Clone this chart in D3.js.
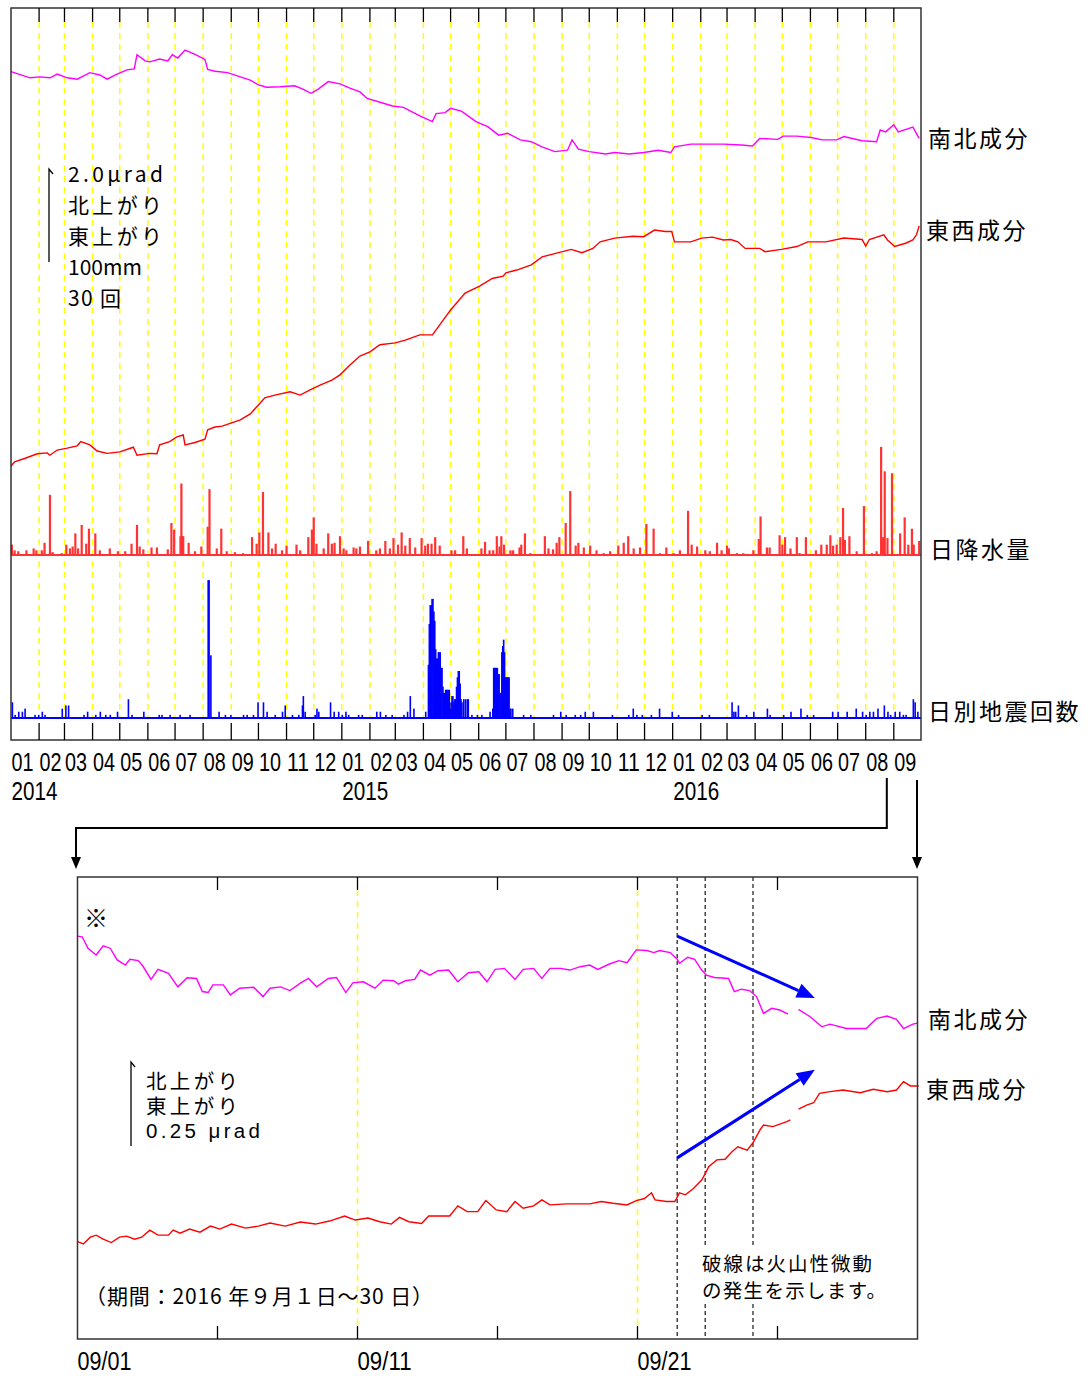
<!DOCTYPE html>
<html><head><meta charset="utf-8">
<script src="https://cdn.jsdelivr.net/npm/d3@7"></script>
<style>
body{margin:0;background:#fff}
svg{display:block}
text{font-family:"Noto Sans CJK JP","Noto Sans",sans-serif;fill:#000}
</style>
</head><body><svg id="c" width="1091" height="1376"></svg>
<script>
// ---------------- DATA ----------------
// top chart: day offsets from 2014-01-01
const monthLabels = ["01","02","03","04","05","06","07","08","09","10","11","12",
  "01","02","03","04","05","06","07","08","09","10","11","12",
  "01","02","03","04","05","06","07","08","09"];
const yearLabels = [["2014-01-01","2014"],["2015-01-01","2015"],["2016-01-01","2016"]];

// 南北成分 [day, µrad]
const nsTop = [[0,8.90],[21,8.77],[32,8.79],[43,8.77],[51,8.85],[62,8.77],[73,8.74],[87,8.88],[98,8.83],[106,8.74],
 [117,8.85],[128,8.94],[136,8.96],[139,9.26],[148,9.13],[153,9.11],[164,9.17],[173,9.13],[178,9.26],[184,9.19],
 [192,9.36],[203,9.27],[214,9.16],[217,8.95],[225,8.91],[239,8.88],[253,8.79],[264,8.72],[273,8.62],[282,8.57],
 [297,8.58],[313,8.60],[322,8.53],[331,8.44],[339,8.53],[350,8.69],[363,8.64],[374,8.55],[385,8.47],[393,8.33],
 [409,8.24],[421,8.17],[433,8.14],[451,7.96],[465,7.84],[469,8.01],[479,8.03],[485,8.12],[497,8.06],[513,7.84],
 [526,7.73],[538,7.55],[548,7.59],[562,7.45],[574,7.41],[586,7.30],[600,7.20],[614,7.23],[619,7.45],[626,7.25],
 [638,7.20],[656,7.15],[666,7.18],[682,7.15],[698,7.18],[714,7.23],[728,7.18],[732,7.30],[750,7.36],[766,7.36],
 [786,7.36],[806,7.34],[818,7.32],[826,7.48],[846,7.46],[852,7.53],[867,7.53],[883,7.50],[895,7.45],[911,7.45],
 [919,7.52],[939,7.43],[955,7.41],[959,7.66],[965,7.62],[974,7.77],[979,7.62],[995,7.72],[1002,7.48]];

// 東西成分 [day, µrad]
const ewTop = [[0,0.51],[4,0.60],[15,0.67],[29,0.77],[40,0.79],[43,0.74],[51,0.85],[62,0.89],[73,0.94],[77,1.03],
 [87,0.96],[95,0.83],[106,0.78],[120,0.81],[135,0.91],[139,0.74],[153,0.78],[161,0.77],[164,0.96],[175,1.03],
 [183,1.13],[190,1.17],[192,0.96],[203,1.01],[214,1.08],[217,1.28],[225,1.34],[233,1.36],[253,1.49],[264,1.62],
 [273,1.81],[280,1.96],[291,2.02],[308,2.09],[319,2.02],[330,2.13],[341,2.23],[354,2.34],[363,2.45],[374,2.66],
 [385,2.85],[396,2.94],[407,3.09],[424,3.13],[435,3.19],[451,3.30],[465,3.30],[477,3.62],[485,3.83],[501,4.19],
 [517,4.34],[531,4.50],[543,4.55],[546,4.62],[558,4.68],[574,4.79],[586,4.96],[602,5.04],[618,5.12],[630,5.05],
 [642,5.14],[650,5.28],[666,5.36],[686,5.40],[698,5.39],[710,5.53],[722,5.50],[729,5.50],[732,5.28],[750,5.28],
 [762,5.36],[774,5.38],[786,5.32],[794,5.33],[802,5.28],[810,5.14],[826,5.14],[832,5.07],[850,5.12],[867,5.18],
 [879,5.28],[899,5.28],[919,5.36],[939,5.33],[943,5.19],[947,5.33],[963,5.43],[967,5.32],[975,5.18],[987,5.25],
 [995,5.32],[999,5.43],[1002,5.62]];

// 日降水量 [day, mm]
const rainDaily = [[1,11],[4,5],[8,4],[17,5],[25,7],[28,5],[34,5],[37,13],[43,64],[46,3],[56,2],[61,11],[65,7],[68,9],
 [71,23],[74,7],[78,32],[83,12],[86,28],[93,23],[98,5],[109,7],[118,4],[126,4],[133,12],[139,32],[142,9],[146,6],
 [155,8],[161,8],[173,6],[177,34],[180,27],[187,20],[188,76],[189,20],[190,20],[196,13],[203,4],[210,9],[217,30],
 [219,70],[227,7],[232,28],[238,4],[247,3],[256,2],[266,19],[271,12],[274,24],[278,67],[284,24],[288,7],[292,12],
 [299,5],[304,10],[315,11],[319,5],[328,19],[332,27],[334,40],[337,12],[345,7],[350,23],[354,12],[357,13],[363,20],
 [367,7],[370,5],[378,8],[381,7],[385,9],[394,15],[403,5],[407,7],[413,15],[418,7],[422,18],[427,11],[431,24],
 [435,10],[440,18],[446,8],[453,18],[457,10],[460,12],[464,12],[468,19],[473,10],[486,5],[490,5],[499,20],[503,7],
 [519,7],[523,14],[528,5],[532,5],[536,20],[539,9],[541,20],[544,11],[551,5],[554,5],[561,8],[563,11],[567,23],
 [573,2],[589,20],[593,7],[598,6],[602,13],[605,19],[612,34],[617,68],[623,10],[626,13],[632,8],[639,10],[646,5],
 [654,2],[661,4],[670,10],[676,13],[681,20],[687,7],[694,8],[701,33],[709,28],[716,2],[723,8],[731,2],[738,5],
 [747,47],[751,11],[757,9],[766,5],[771,4],[779,13],[784,5],[790,10],[792,7],[801,2],[808,2],[819,5],[825,17],
 [827,41],[834,8],[837,8],[848,21],[851,11],[854,19],[860,7],[867,19],[870,2],[877,19],[888,5],[894,11],[900,11],
 [904,21],[907,10],[911,11],[915,19],[918,50],[920,16],[925,20],[933,4],[941,52],[950,2],[955,4],[960,115],
 [962,19],[964,89],[967,18],[972,87],[981,23],[986,40],[990,11],[994,28],[996,11],[1002,15]];

// 日別地震回数 [day, count]
const quakeDaily = [[1,5],[4,1],[8,2],[12,2],[15,3],[26,1],[30,1],[34,2],[37,1],[56,3],[60,4],[63,4],[80,1],[84,2],
 [93,1],[98,2],[104,1],[109,1],[117,2],[129,6],[133,1],[146,2],[163,1],[166,1],[175,1],[186,1],[197,1],[217,44],
 [218,44],[220,20],[229,2],[236,1],[242,1],[256,1],[260,1],[267,1],[272,5],[278,5],[282,2],[291,1],[299,2],[302,4],
 [310,1],[317,1],[321,4],[322,7],[324,2],[335,1],[337,3],[339,2],[352,5],[356,2],[361,2],[365,1],[369,2],[372,1],
 [383,1],[387,1],[403,2],[407,2],[413,1],[420,1],[433,1],[437,2],[440,7],[444,3],[457,2],[460,17],[461,30],[462,36],
 [463,36],[464,38],[465,38],[466,34],[467,31],[468,22],[469,19],[470,19],[471,21],[472,21],[473,21],[474,16],
 [475,16],[476,10],[477,8],[478,8],[479,9],[480,9],[481,9],[482,9],[483,9],[484,3],[485,5],[486,7],[487,7],[488,5],
 [489,6],[490,6],[491,10],[492,13],[493,15],[494,15],[495,11],[496,6],[497,5],[499,6],[501,6],[503,6],[504,6],
 [508,1],[514,1],[519,1],[528,2],[531,3],[532,16],[533,16],[534,16],[535,16],[536,16],[537,14],[538,14],[539,8],
 [540,8],[541,21],[542,23],[543,25],[544,21],[545,13],[546,13],[547,13],[548,13],[549,13],[550,3],[551,3],[553,3],
 [565,1],[573,1],[598,1],[606,2],[612,1],[622,1],[628,1],[633,2],[642,2],[663,1],[681,1],[686,3],[690,1],[696,1],
 [706,1],[715,3],[729,2],[736,1],[762,1],[770,1],[795,5],[797,2],[799,2],[802,4],[811,1],[819,2],[834,3],[837,1],
 [852,1],[860,2],[871,3],[878,1],[885,1],[906,2],[912,2],[922,2],[932,3],[939,2],[943,1],[947,2],[951,2],[956,3],
 [963,4],[967,2],[970,1],[975,2],[980,2],[984,1],[987,1],[995,6],[997,5],[1000,2]];

// bottom chart: hour offsets from 2016-09-01 00:00
const sepTickDays = [1,6,11,16,21,26];
const sepLabelDays = [1,11,21];
const sepYellowDays = [11,21];
const nsSep = [[0,1.083],[4,1.081],[9,1.047],[16,1.027],[22,1.054],[28,1.047],[34,1.012],[41,0.997],[45,1.014],
 [52,1.010],[56,0.994],[63,0.954],[69,0.984],[78,0.972],[86,0.932],[94,0.959],[102,0.957],[107,0.918],[112,0.915],
 [116,0.938],[125,0.938],[131,0.908],[139,0.928],[151,0.931],[159,0.903],[165,0.928],[174,0.932],[182,0.921],
 [191,0.943],[198,0.957],[205,0.932],[215,0.957],[222,0.960],[230,0.915],[236,0.944],[245,0.947],[255,0.928],
 [262,0.952],[271,0.950],[275,0.940],[281,0.950],[289,0.954],[294,0.982],[302,0.967],[309,0.980],[318,0.982],
 [326,0.947],[335,0.974],[344,0.977],[351,0.947],[358,0.984],[366,0.987],[375,0.954],[382,0.984],[391,0.987],
 [398,0.957],[405,0.987],[414,0.987],[422,0.982],[431,0.992],[439,0.997],[446,0.984],[456,1.000],[464,1.010],
 [471,1.004],[479,1.042],[488,1.040],[494,1.034],[499,1.040],[508,1.034],[514,1.014],[516,1.002],[523,1.020],
 [529,1.014],[535,0.982],[539,0.967],[546,0.960],[558,0.957],[563,0.918],[569,0.925],[576,0.921],[582,0.903],
 [588,0.853],[595,0.868],[602,0.863],[609,0.851],[613,null],[618,0.865],[628,0.843],[638,0.813],[645,0.821],
 [659,0.808],[676,0.808],[685,0.838],[694,0.845],[702,0.835],[708,0.808],[716,0.821],[720,0.824]];
const ewSep = [[0,0.174],[5,0.167],[11,0.187],[16,0.193],[22,0.181],[29,0.171],[36,0.187],[42,0.190],[49,0.181],
 [55,0.187],[62,0.208],[69,0.193],[78,0.193],[82,0.208],[88,0.199],[96,0.211],[105,0.202],[114,0.220],[122,0.211],
 [132,0.226],[144,0.214],[155,0.220],[165,0.229],[178,0.220],[191,0.232],[204,0.226],[216,0.235],[229,0.250],
 [238,0.238],[249,0.244],[259,0.233],[269,0.226],[276,0.246],[284,0.233],[295,0.228],[301,0.250],[319,0.250],
 [326,0.280],[334,0.263],[343,0.263],[350,0.296],[359,0.268],[368,0.263],[375,0.293],[382,0.273],[391,0.280],
 [398,0.298],[405,0.283],[419,0.286],[439,0.286],[449,0.293],[459,0.288],[471,0.283],[479,0.296],[486,0.302],
 [492,0.319],[495,0.298],[505,0.293],[512,0.293],[516,0.319],[521,0.313],[528,0.332],[535,0.357],[539,0.382],
 [541,0.397],[548,0.417],[555,0.419],[561,0.441],[566,0.456],[574,0.446],[579,0.468],[585,0.506],[588,0.521],
 [596,0.516],[608,0.531],[611,0.536],[614,null],[618,0.568],[625,0.580],[631,0.587],[636,0.615],[645,0.620],
 [656,0.625],[671,0.617],[682,0.627],[694,0.620],[702,0.625],[708,0.650],[714,0.637],[721,0.637]];
// 火山性微動 (hours from 09/01 00:00)
const tremorHours = [514, 538, 579];
// trend arrows [hour, µrad] -> [hour, µrad]
const trendArrows = [[[514,1.083],[632,0.899]],[[514,0.423],[632,0.685]]];

// ---------------- DRAW ----------------
const svg = d3.select("#c");
const t0 = new Date(2014,0,1), t1 = new Date(2016,9,1);
const dayDate = d => d3.timeDay.offset(t0, d);
const TL=11, TR=921, TT=8, TB=740;
const x = d3.scaleTime().domain([t0,t1]).range([TL,TR]);
const yTilt = d3.scaleLinear().domain([0,10]).range([490,20]);
const yRain = d3.scaleLinear().domain([0,100]).range([555,461]);
const yQuake = d3.scaleLinear().domain([0,30]).range([718,624]);
const months = d3.timeMonth.range(t0, t1);
const dayW = x(dayDate(1)) - x(dayDate(0));
const NARROW = "'Liberation Sans Narrow','Liberation Sans',sans-serif";
const TIGHT = "'Liberation Sans','Noto Sans CJK JP',sans-serif";

// yellow dashed month lines
svg.append("g").selectAll("line").data(months.slice(1)).join("line")
  .attr("x1",d=>x(d)).attr("x2",d=>x(d)).attr("y1",22).attr("y2",718)
  .attr("stroke","#ffff00").attr("stroke-width",1.5).attr("stroke-dasharray","6,5");

// rain baseline + bars
const rainC = "#ff3333";
svg.append("g").selectAll("rect").data(rainDaily).join("rect")
  .attr("x",d=>x(dayDate(d[0]))-1.1).attr("width",Math.max(2.2,dayW))
  .attr("y",d=>yRain(d[1])).attr("height",d=>yRain(0)-yRain(d[1]))
  .attr("fill",rainC);
svg.append("line").attr("x1",TL).attr("x2",TR).attr("y1",yRain(0)).attr("y2",yRain(0))
  .attr("stroke",rainC).attr("stroke-width",2);

// quake bars
const qC = "#0000ff";
svg.append("g").selectAll("rect").data(quakeDaily).join("rect")
  .attr("x",d=>x(dayDate(d[0]))-0.3).attr("width",Math.max(1.6,dayW+0.4))
  .attr("y",d=>yQuake(d[1])).attr("height",d=>yQuake(0)-yQuake(d[1]))
  .attr("fill",qC);
svg.append("line").attr("x1",TL).attr("x2",TR).attr("y1",yQuake(0)).attr("y2",yQuake(0))
  .attr("stroke",qC).attr("stroke-width",2);

// tilt lines
const lineTop = d3.line().x(d=>x(dayDate(d[0]))).y(d=>yTilt(d[1]));
svg.append("path").datum(nsTop).attr("d",lineTop).attr("fill","none").attr("stroke","#ff00ff").attr("stroke-width",1.4);
svg.append("path").datum(ewTop).attr("d",lineTop).attr("fill","none").attr("stroke","#ff0000").attr("stroke-width",1.4);

// frame + ticks
svg.append("rect").attr("x",TL).attr("y",TT).attr("width",TR-TL).attr("height",TB-TT)
  .attr("fill","none").attr("stroke","#333").attr("stroke-width",1.5);
const tg = svg.append("g").attr("stroke","#000").attr("stroke-width",1.3);
tg.selectAll("line.t").data(months.slice(1)).join("line").attr("class","t")
  .attr("x1",d=>x(d)).attr("x2",d=>x(d)).attr("y1",TT).attr("y2",22);
tg.selectAll("line.b").data(months.slice(1)).join("line").attr("class","b")
  .attr("x1",d=>x(d)).attr("x2",d=>x(d)).attr("y1",723).attr("y2",TB);

// month labels
const condensed = (sel, len) => sel.attr("textLength",len).attr("lengthAdjust","spacingAndGlyphs");
svg.append("g").selectAll("text").data(months).join("text")
  .attr("x",d=>x(d)+0.5).attr("y",771).attr("font-size",25).style("font-family",NARROW)
  .text((d,i)=>monthLabels[i]).call(condensed,22);
svg.append("g").selectAll("text").data(yearLabels).join("text")
  .attr("x",d=>x(new Date(d[0]+"T00:00"))+0.5).attr("y",800).attr("font-size",25).style("font-family",NARROW)
  .text(d=>d[1]).call(condensed,46);

// scale bar (top)
svg.append("path").attr("d","M49,262V169L53,174").attr("fill","none").attr("stroke","#000").attr("stroke-width",1.3);
const sTxt = [["2.0μrad",95],["北上がり",94],["東上がり",94],["100mm",0],["30 回",53]];
svg.append("g").selectAll("text").data(sTxt).join("text")
  .attr("x",68).attr("y",(d,i)=>182+i*31).attr("font-size",21)
  .attr("textLength",d=>d[1]||null).attr("lengthAdjust",d=>d[1]?"spacing":null).text(d=>d[0]);

// right labels
const rl = [["南北成分",928,147],["東西成分",926,239],["日降水量",930,558],["日別地震回数",928,720],
  ["南北成分",928,1028],["東西成分",926,1098]];
svg.append("g").selectAll("text").data(rl).join("text")
  .attr("x",d=>d[1]).attr("y",d=>d[2]).attr("font-size",23).attr("letter-spacing",2.5).text(d=>d[0]);

// connector arrows
const xConn = x(new Date(2016,8,1)) - 7;
svg.append("path").attr("d",`M${xConn},778V828H76V858`).attr("fill","none").attr("stroke","#000").attr("stroke-width",2);
svg.append("path").attr("d",`M${TR-4},780V858`).attr("fill","none").attr("stroke","#000").attr("stroke-width",2);
[[76,869],[TR-4,869]].forEach(p=>{
  svg.append("path").attr("d",`M${p[0]-5},857L${p[0]+5},857L${p[0]},${p[1]}Z`).attr("fill","#000");
});

// ---------------- BOTTOM CHART ----------------
const s0 = new Date(2016,8,1), s1 = new Date(2016,9,1);
const hourDate = h => d3.timeHour.offset(s0, h);
const BL=77.5, BR=917.5, BT=877, BB=1339;
const xs = d3.scaleTime().domain([s0,s1]).range([BL,BR]);
const ys = d3.scaleLinear().domain([0,1]).range([1300,964]);
const dayOf = d => new Date(2016,8,d);

svg.append("g").selectAll("line").data(sepYellowDays).join("line")
  .attr("x1",d=>xs(dayOf(d))).attr("x2",d=>xs(dayOf(d))).attr("y1",BT+13).attr("y2",BB-13)
  .attr("stroke","#ffff00").attr("stroke-width",1.5).attr("stroke-dasharray","6,5");

svg.append("g").selectAll("line").data(tremorHours).join("line")
  .attr("x1",d=>xs(hourDate(d))).attr("x2",d=>xs(hourDate(d))).attr("y1",BT).attr("y2",BB)
  .attr("stroke","#000").attr("stroke-width",1.1).attr("stroke-dasharray","4,3");

const lineSep = d3.line().defined(d=>d[1]!=null).x(d=>xs(hourDate(d[0]))).y(d=>ys(d[1]));
svg.append("path").datum(nsSep).attr("d",lineSep).attr("fill","none").attr("stroke","#ff00ff").attr("stroke-width",1.4);
svg.append("path").datum(ewSep).attr("d",lineSep).attr("fill","none").attr("stroke","#ff0000").attr("stroke-width",1.4);

// trend arrows
trendArrows.forEach(a=>{
  const x1=xs(hourDate(a[0][0])), y1=ys(a[0][1]), x2=xs(hourDate(a[1][0])), y2=ys(a[1][1]);
  const ang=Math.atan2(y2-y1,x2-x1), L=18, W=7.5;
  const bx=x2-L*Math.cos(ang), by=y2-L*Math.sin(ang);
  svg.append("line").attr("x1",x1).attr("y1",y1).attr("x2",bx).attr("y2",by)
    .attr("stroke","#0000ff").attr("stroke-width",3);
  svg.append("path").attr("d",`M${x2},${y2}L${bx+W*Math.sin(ang)},${by-W*Math.cos(ang)}L${bx-W*Math.sin(ang)},${by+W*Math.cos(ang)}Z`)
    .attr("fill","#0000ff");
});

// note box
svg.append("rect").attr("x",700).attr("y",1247).attr("width",192).attr("height",57).attr("fill","#fff");
const note = svg.append("text").attr("font-size",19.5);
note.append("tspan").attr("x",702).attr("y",1271).attr("textLength",170).attr("lengthAdjust","spacing").text("破線は火山性微動");
note.append("tspan").attr("x",702).attr("y",1298).attr("textLength",184).attr("lengthAdjust","spacing").text("の発生を示します。");

svg.append("rect").attr("x",BL).attr("y",BT).attr("width",BR-BL).attr("height",BB-BT)
  .attr("fill","none").attr("stroke","#333").attr("stroke-width",1.5);
const bt = svg.append("g").attr("stroke","#000").attr("stroke-width",1.3);
bt.selectAll("line.t").data(sepTickDays.slice(1)).join("line").attr("class","t")
  .attr("x1",d=>xs(dayOf(d))).attr("x2",d=>xs(dayOf(d))).attr("y1",BT).attr("y2",BT+13);
bt.selectAll("line.b").data(sepTickDays.slice(1)).join("line").attr("class","b")
  .attr("x1",d=>xs(dayOf(d))).attr("x2",d=>xs(dayOf(d))).attr("y1",BB-13).attr("y2",BB);

svg.append("g").selectAll("text").data(sepLabelDays).join("text")
  .attr("x",d=>xs(dayOf(d))).attr("y",1370).attr("font-size",26).style("font-family",NARROW)
  .text(d=>"09/"+String(d).padStart(2,"0")).call(condensed,54);

svg.append("text").attr("x",84).attr("y",927).attr("font-size",24).text("※");
svg.append("path").attr("d","M131,1146V1062L135,1067").attr("fill","none").attr("stroke","#000").attr("stroke-width",1.3);
const sbLines = [["北上がり",92],["東上がり",92],["0.25 μrad",114]];
sbLines.forEach((t,i)=>
  svg.append("text").attr("x",146).attr("y",1089+i*24.5).attr("font-size",20.5).style("font-family",TIGHT)
    .attr("textLength",t[1]).attr("lengthAdjust","spacing").text(t[0]));
svg.append("text").attr("x",85).attr("y",1304).attr("font-size",21)
  .attr("textLength",348).attr("lengthAdjust","spacing").text("（期間：2016 年９月１日～30 日）");
</script>
</body></html>
